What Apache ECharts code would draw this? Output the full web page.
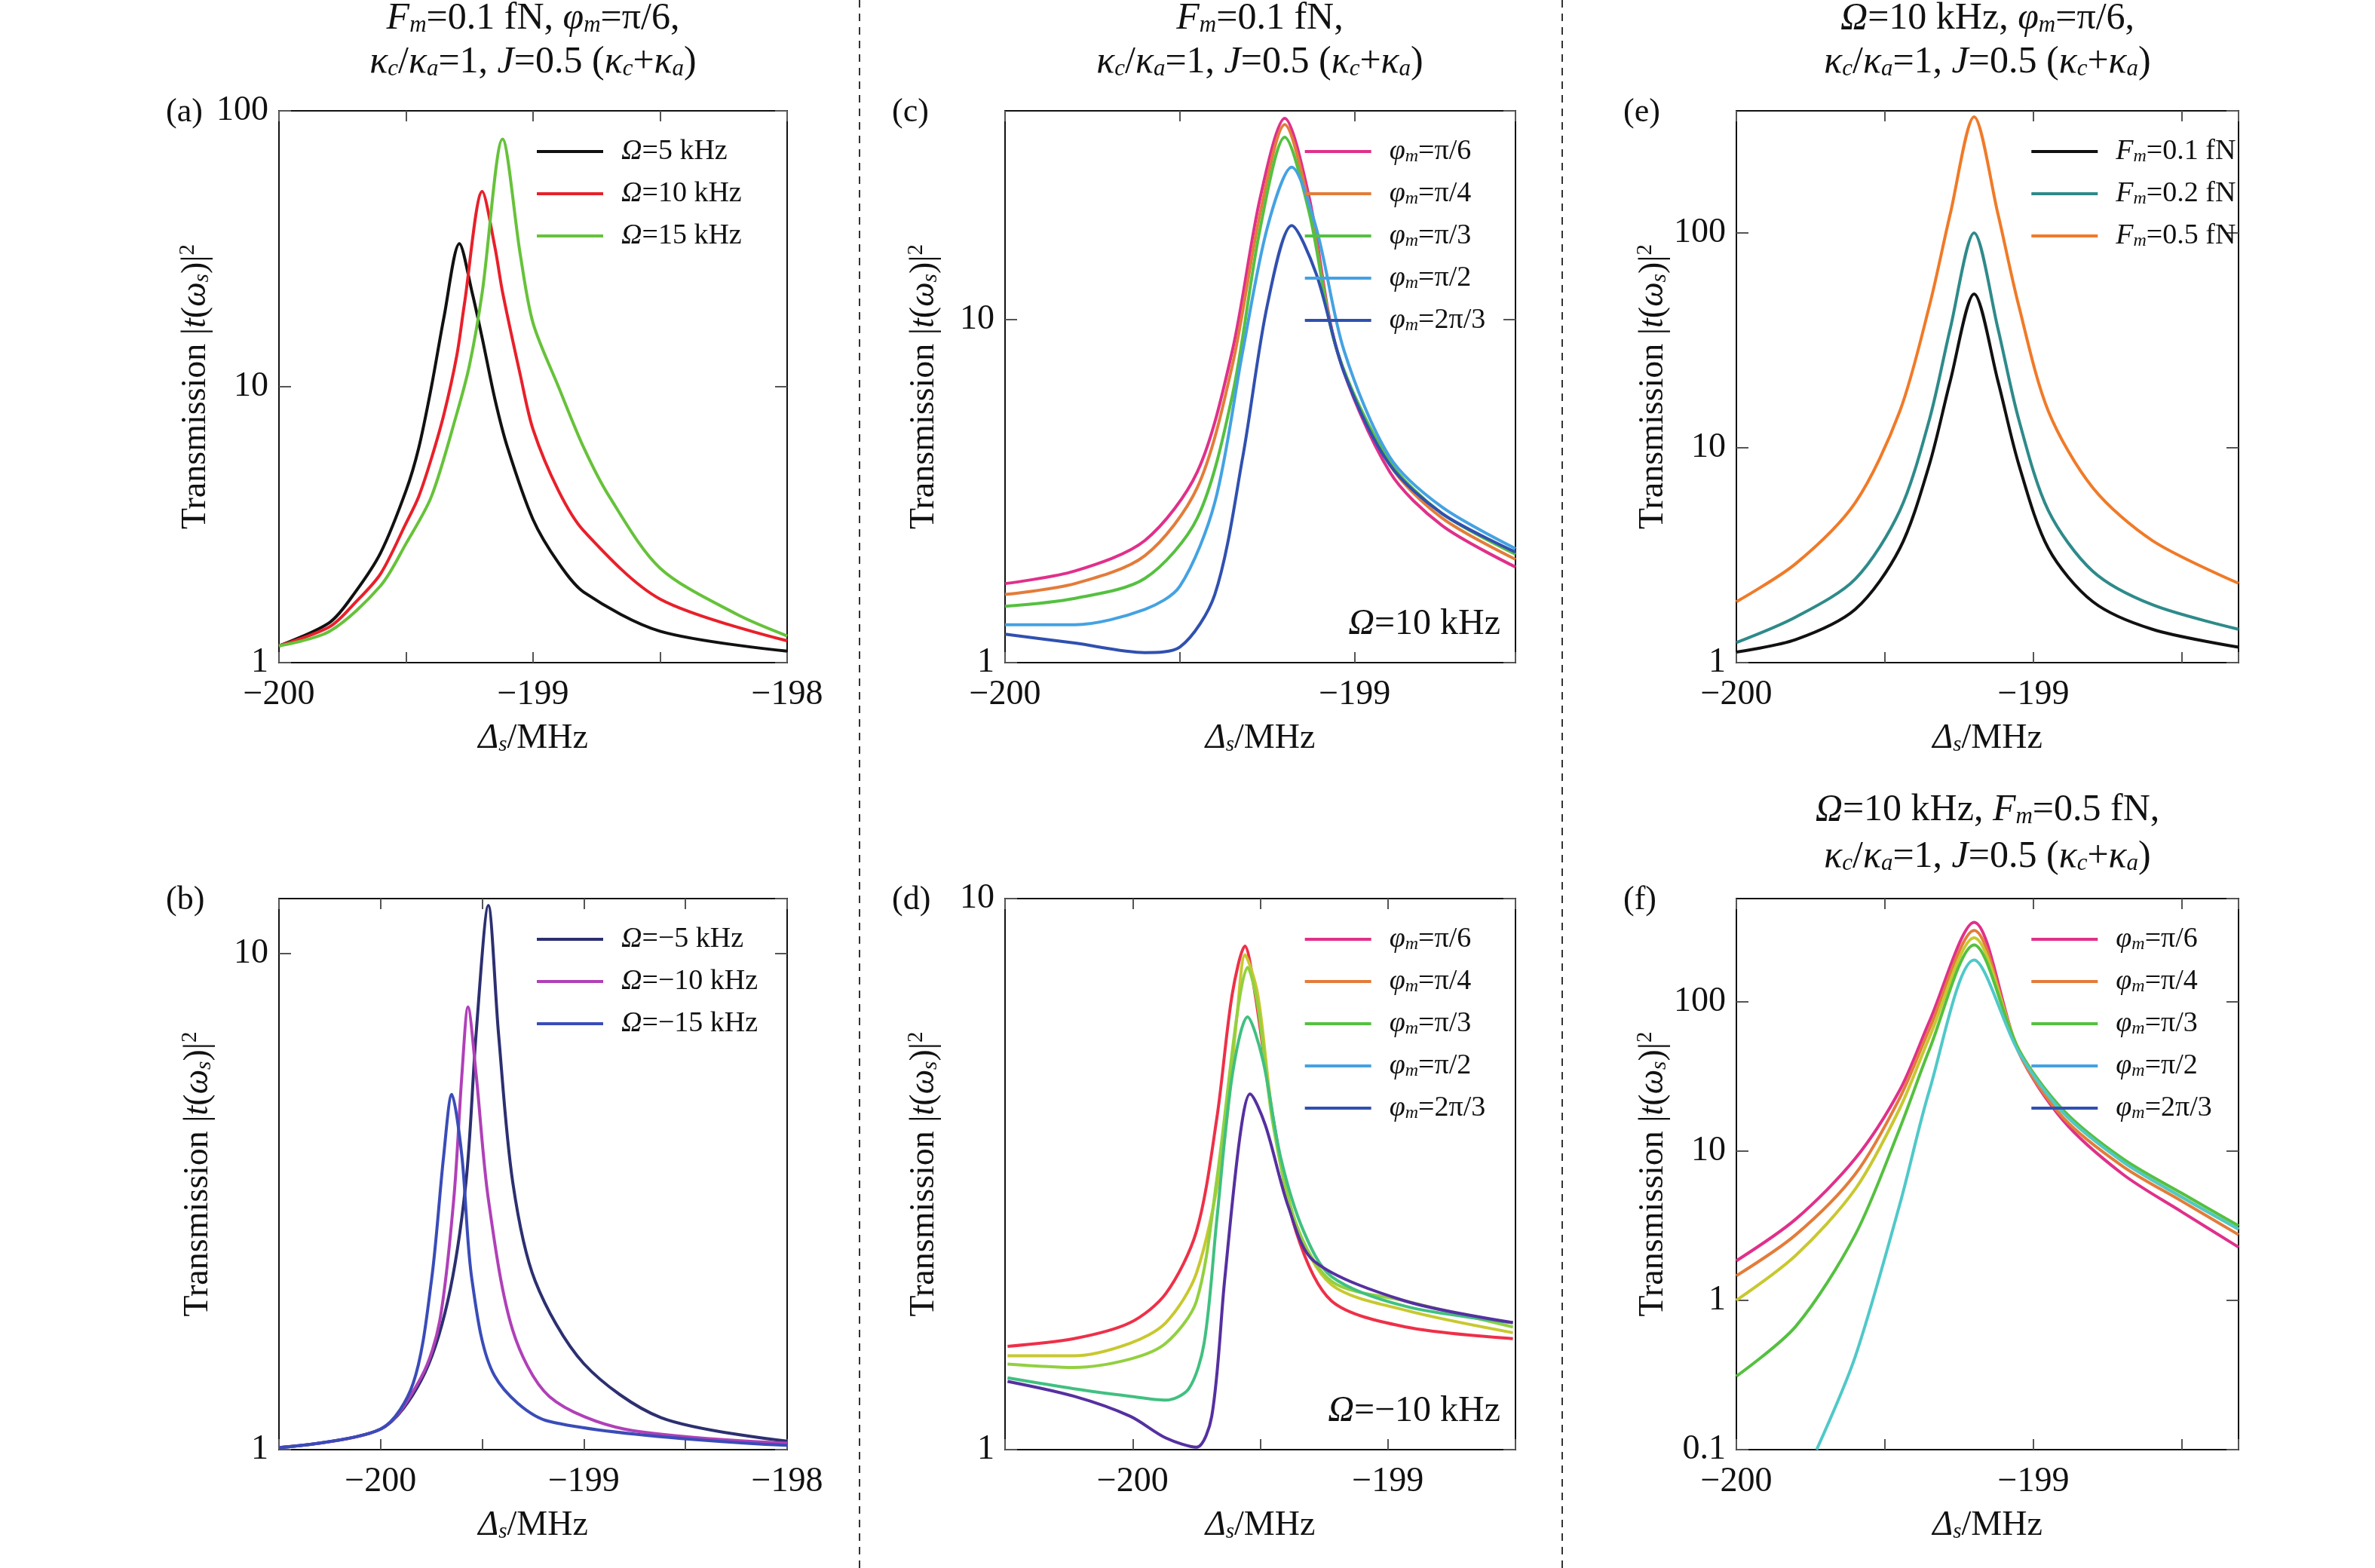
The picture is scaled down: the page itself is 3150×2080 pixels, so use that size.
<!DOCTYPE html>
<html><head><meta charset="utf-8">
<script src="https://cdn.jsdelivr.net/npm/echarts@6/dist/echarts.min.js"></script>
<style>html,body{margin:0;background:#fff}#c{width:3150px;height:2080px}</style>
</head><body><div id="c"></div>
<script>
// ---- data (x = Δs in MHz, y = transmission) ----
const a_O5  = [[-200,1.15],[-199.8,1.4],[-199.7,1.8],[-199.6,2.5],[-199.5,4.2],[-199.45,6],[-199.4,10],[-199.35,18],[-199.29,33],[-199.24,22],[-199.2,15],[-199.15,9],[-199.1,6],[-199.0,3.3],[-198.9,2.3],[-198.8,1.8],[-198.5,1.3],[-198,1.1]];
const a_O10 = [[-200,1.15],[-199.8,1.35],[-199.7,1.65],[-199.6,2.1],[-199.5,3.2],[-199.45,4],[-199.4,5.5],[-199.35,8],[-199.3,13],[-199.27,20],[-199.2,51],[-199.15,32],[-199.12,22],[-199.05,11],[-199.0,7],[-198.9,4.2],[-198.8,3],[-198.5,1.7],[-198,1.2]];
const a_O15 = [[-200,1.15],[-199.8,1.3],[-199.6,1.9],[-199.5,2.7],[-199.4,4],[-199.3,8],[-199.25,12],[-199.2,22],[-199.12,79],[-199.05,30],[-199.0,17],[-198.9,10],[-198.8,6],[-198.7,4],[-198.5,2.2],[-198.2,1.5],[-198,1.25]];

const b_O5  = [[-200.5,1.01],[-200,1.1],[-199.8,1.38],[-199.67,1.99],[-199.58,3.46],[-199.53,6.9],[-199.47,12.5],[-199.42,6.9],[-199.35,3.46],[-199.24,2.19],[-199.0,1.49],[-198.62,1.16],[-198,1.04]];
const b_O10 = [[-200.5,1.01],[-200,1.1],[-199.8,1.4],[-199.71,1.81],[-199.64,3.2],[-199.6,5.7],[-199.57,7.8],[-199.53,5.7],[-199.47,3.2],[-199.35,1.74],[-199.17,1.28],[-198.8,1.1],[-198,1.03]];
const b_O15 = [[-200.5,1.01],[-200,1.1],[-199.84,1.36],[-199.75,2.19],[-199.69,3.9],[-199.65,5.2],[-199.6,3.9],[-199.55,2.19],[-199.44,1.41],[-199.17,1.14],[-198,1.02]];

const c_p6  = [[-200,1.7],[-199.8,1.85],[-199.6,2.27],[-199.45,3.6],[-199.35,8.1],[-199.27,22.7],[-199.2,38.6],[-199.13,22.7],[-199.05,8.1],[-198.9,3.6],[-198.75,2.51],[-198.54,1.9]];
const c_p4  = [[-200,1.58],[-199.8,1.7],[-199.6,2.05],[-199.45,3.24],[-199.35,7.35],[-199.27,20.5],[-199.2,37],[-199.13,21.5],[-199.05,8.1],[-198.9,3.78],[-198.75,2.64],[-198.54,2.0]];
const c_p3  = [[-200,1.46],[-199.8,1.54],[-199.6,1.76],[-199.45,2.64],[-199.35,6.0],[-199.27,18.5],[-199.2,34],[-199.13,20.5],[-199.05,8.1],[-198.9,3.86],[-198.75,2.72],[-198.54,2.07]];
const c_p2  = [[-200,1.29],[-199.8,1.29],[-199.6,1.43],[-199.5,1.67],[-199.4,2.93],[-199.32,8.1],[-199.25,18.5],[-199.18,27.8],[-199.11,18.5],[-199.03,8.1],[-198.9,3.98],[-198.75,2.84],[-198.54,2.15]];
const c_2p3 = [[-200,1.21],[-199.8,1.14],[-199.6,1.07],[-199.5,1.11],[-199.4,1.58],[-199.32,3.98],[-199.25,11],[-199.18,18.8],[-199.11,13.6],[-199.03,7.0],[-198.9,3.78],[-198.75,2.72],[-198.54,2.1]];

const d_p6  = [[-200.49,1.54],[-200.23,1.59],[-200.01,1.7],[-199.87,1.92],[-199.75,2.49],[-199.67,4.0],[-199.61,6.7],[-199.56,8.2],[-199.52,6.7],[-199.45,4.0],[-199.36,2.49],[-199.22,1.86],[-198.93,1.67],[-198.51,1.59]];
const d_p4  = [[-200.49,1.48],[-200.23,1.48],[-200.01,1.56],[-199.87,1.7],[-199.75,2.09],[-199.65,3.39],[-199.59,6.2],[-199.56,7.9],[-199.51,6.7],[-199.45,4.0],[-199.36,2.57],[-199.22,1.99],[-198.93,1.79],[-198.51,1.63]];
const d_p3  = [[-200.49,1.43],[-200.23,1.41],[-200.01,1.46],[-199.87,1.56],[-199.75,1.86],[-199.67,3.1],[-199.59,6.2],[-199.55,7.5],[-199.51,6.4],[-199.45,3.9],[-199.36,2.57],[-199.22,2.02],[-198.93,1.86],[-198.51,1.67]];
const d_p2  = [[-200.49,1.35],[-200.23,1.29],[-200.01,1.25],[-199.87,1.23],[-199.78,1.29],[-199.72,1.56],[-199.67,2.62],[-199.61,4.77],[-199.55,6.1],[-199.49,5.1],[-199.42,3.39],[-199.33,2.49],[-199.22,2.06],[-198.93,1.82],[-198.51,1.7]];
const d_2p3 = [[-200.49,1.33],[-200.23,1.25],[-200.01,1.15],[-199.87,1.05],[-199.75,1.01],[-199.69,1.15],[-199.64,2.02],[-199.58,3.69],[-199.54,4.42],[-199.48,3.88],[-199.39,2.76],[-199.29,2.2],[-198.93,1.86],[-198.51,1.7]];

const e_F1 = [[-200,1.12],[-199.8,1.28],[-199.6,1.77],[-199.45,3.4],[-199.35,8.4],[-199.28,20.5],[-199.2,52],[-199.12,20.5],[-199.05,8.4],[-198.95,3.4],[-198.8,1.92],[-198.6,1.43],[-198.31,1.18]];
const e_F2 = [[-200,1.24],[-199.8,1.63],[-199.6,2.45],[-199.45,5.1],[-199.35,13.6],[-199.28,36],[-199.2,100],[-199.12,36],[-199.05,13.6],[-198.95,5.1],[-198.8,2.66],[-198.6,1.86],[-198.31,1.43]];
const e_F5 = [[-200,1.92],[-199.8,2.89],[-199.6,5.55],[-199.45,14.8],[-199.35,46],[-199.28,123],[-199.2,347],[-199.12,123],[-199.05,46],[-198.95,14.8],[-198.8,6.5],[-198.6,3.7],[-198.31,2.34]];

const f_p6  = [[-200,1.84],[-199.8,3.5],[-199.6,8.9],[-199.45,25.6],[-199.35,74],[-199.2,340],[-199.05,46],[-198.9,16],[-198.7,7.0],[-198.5,3.9],[-198.31,2.27]];
const f_p4  = [[-200,1.46],[-199.8,2.75],[-199.6,7.0],[-199.45,22.7],[-199.35,66],[-199.2,300],[-199.05,46],[-198.9,16.7],[-198.7,7.9],[-198.5,4.6],[-198.31,2.75]];
const f_p3  = [[-200,1.0],[-199.8,2.0],[-199.6,5.55],[-199.45,19.3],[-199.35,58],[-199.2,268],[-199.05,48],[-198.9,18],[-198.7,8.5],[-198.5,4.9],[-198.31,3.0]];
const f_p2  = [[-200,0.31],[-199.8,0.67],[-199.6,2.75],[-199.45,14.2],[-199.35,48],[-199.2,240],[-199.05,48],[-198.9,18.8],[-198.7,8.9],[-198.5,5.2],[-198.31,3.16]];
const f_2p3 = [[-199.73,0.1],[-199.6,0.42],[-199.45,4.4],[-199.35,25.6],[-199.2,190],[-199.05,46],[-198.9,18],[-198.7,8.5],[-198.5,4.9],[-198.31,3.0]];

// ---- layout ----
const FONT = 'Liberation Serif';
const cols = [[370,1044],[1333,2010],[2303,2969]];
const rows = [[147,879],[1192,1923]];
const panels = [
  {id:'a',c:0,r:0,x:[-200,-198],y:[1,100],
   s:[['{i|Ω}=5 kHz','#111111',a_O5],['{i|Ω}=10 kHz','#e8202a',a_O10],['{i|Ω}=15 kHz','#66c23a',a_O15]]},
  {id:'b',c:0,r:1,x:[-200.5,-198],y:[1,12.9],
   s:[['{i|Ω}=−5 kHz','#2c2f70',b_O5],['{i|Ω}=−10 kHz','#b040b8',b_O10],['{i|Ω}=−15 kHz','#3a4cb8',b_O15]]},
  {id:'c',c:1,r:0,x:[-200,-198.54],y:[1,40.6],note:'{i|Ω}{n|=10 kHz}',
   s:[['{i|φ}{s|m}=π/6','#e0308a',c_p6],['{i|φ}{s|m}=π/4','#e37c3a',c_p4],['{i|φ}{s|m}=π/3','#55c040',c_p3],['{i|φ}{s|m}=π/2','#44a2e2',c_p2],['{i|φ}{s|m}=2π/3','#3050b0',c_2p3]]},
  {id:'d',c:1,r:1,x:[-200.5,-198.5],y:[1,10],note:'{i|Ω}{n|=−10 kHz}',
   s:[['{i|φ}{s|m}=π/6','#ee3048',d_p6],['{i|φ}{s|m}=π/4','#c8c830',d_p4],['{i|φ}{s|m}=π/3','#92d040',d_p3],['{i|φ}{s|m}=π/2','#40c080',d_p2],['{i|φ}{s|m}=2π/3','#5530a0',d_2p3]]},
  {id:'e',c:2,r:0,x:[-200,-198.31],y:[1,370],
   s:[['{i|F}{s|m}=0.1 fN','#111111',e_F1],['{i|F}{s|m}=0.2 fN','#2e8a8a',e_F2],['{i|F}{s|m}=0.5 fN','#f07a28',e_F5]]},
  {id:'f',c:2,r:1,x:[-200,-198.31],y:[0.1,490],
   s:[['{i|φ}{s|m}=π/6','#e0308a',f_p6],['{i|φ}{s|m}=π/4','#e37c3a',f_p4],['{i|φ}{s|m}=π/3','#c8c830',f_p3],['{i|φ}{s|m}=π/2','#55c040',f_p2],['{i|φ}{s|m}=2π/3','#50c8c8',f_2p3]]}
];

function mkRich(fs){return {
  i:{fontFamily:FONT,fontStyle:'italic',fontSize:fs,color:'#111'},
  s:{fontFamily:FONT,fontStyle:'italic',fontSize:Math.round(fs*0.62),padding:[Math.round(fs*0.35),0,0,0],color:'#111'},
  p:{fontFamily:FONT,fontSize:Math.round(fs*0.62),padding:[0,0,Math.round(fs*0.45),0],color:'#111'},
  n:{fontFamily:FONT,fontSize:fs,color:'#111'}
};}

const grid=[],xAxis=[],yAxis=[],series=[],legend=[],graphic=[];
panels.forEach((p,k)=>{
  const L=cols[p.c][0],R=cols[p.c][1],T=rows[p.r][0],B=rows[p.r][1];
  grid.push({left:L,top:T,width:R-L,height:B-T,show:true,borderColor:'#111',borderWidth:2});
  const ymin=Math.log10(p.y[0]), ymax=Math.log10(p.y[1]);
  const common={gridIndex:k,type:'value',min:p.x[0],max:p.x[1],interval:0.5,
    axisLine:{onZero:false,lineStyle:{color:'#111',width:2}},splitLine:{show:false},
    axisTick:{inside:true,length:14,lineStyle:{color:'#555',width:2}}};
  xAxis.push(Object.assign({},common,{position:'bottom',
    name:'{i|Δ}{s|s}{n|/MHz}',nameLocation:'middle',nameGap:78,nameTextStyle:{fontFamily:FONT,fontSize:46,color:'#111',rich:mkRich(46)},
    axisLabel:{fontFamily:FONT,fontSize:46,color:'#111',margin:20,showMaxLabel:true,
      formatter:v=>Math.abs(v-Math.round(v))<1e-6 ? ('−'+Math.abs(Math.round(v))) : ''}}));
  xAxis.push(Object.assign({},common,{position:'top',axisLabel:{show:false}}));
  const yc={gridIndex:k,type:'value',min:ymin,max:ymax,interval:1,
    axisLine:{onZero:false,lineStyle:{color:'#111',width:2}},splitLine:{show:false},
    axisTick:{inside:true,length:16,lineStyle:{color:'#555',width:2}}};
  yAxis.push(Object.assign({},yc,{position:'left',
    name:'{n|Transmission |}{i|t}{n|(}{i|ω}{s|s}{n|)|}{p|2}',nameLocation:'middle',nameGap:82,nameRotate:90,
    nameTextStyle:{fontFamily:FONT,fontSize:46,color:'#111',rich:mkRich(46)},
    axisLabel:{fontFamily:FONT,fontSize:46,color:'#111',margin:14,showMaxLabel:Math.abs(ymax-Math.round(ymax))<1e-6,
      formatter:v=>{if(Math.abs(v-Math.round(v))>1e-6)return '';const n=Math.pow(10,Math.round(v));return n<1?n.toFixed(1):String(Math.round(n));}}}));
  yAxis.push(Object.assign({},yc,{position:'right',axisLabel:{show:false}}));
  const names=[];
  p.s.forEach(s=>{
    names.push(s[0]);
    series.push({type:'line',name:s[0],xAxisIndex:2*k,yAxisIndex:2*k,smooth:0.3,showSymbol:false,
      lineStyle:{color:s[1],width:4},itemStyle:{color:s[1]},clip:true,
      data:s[2].map(d=>[d[0],Math.log10(d[1])])});
  });
  const lgLeft = p.c===0 ? L+(R-L)*0.5 : L+(R-L)*0.58;
  legend.push({data:names,left:lgLeft,top:T+30,orient:'vertical',itemWidth:88,itemHeight:4,itemGap:18,
    icon:'rect',textStyle:{fontFamily:FONT,fontSize:38,color:'#111',rich:mkRich(38)},
    formatter:n=>'{n|  }{n|'+n.replace(/\{(\w)\|([^}]*)\}/g,'}{$1|$2}{n|')+'}'});
  graphic.push({type:'text',left:L-150,top:T-20,style:{text:'('+p.id+')',font:'44px "Liberation Serif"',fill:'#111'}});
  if(p.note) graphic.push({type:'text',right:3150-R+20,top:B-75,style:{text:p.note,rich:mkRich(48),font:'48px "Liberation Serif"',fill:'#111'}});
});

function title(cx,y,t){graphic.push({type:'text',x:cx,y:y,style:{text:t,rich:mkRich(50),font:'50px "Liberation Serif"',fill:'#111',align:'center'}});}
const line2='{i|κ}{s|c}{n|/}{i|κ}{s|a}{n|=1, }{i|J}{n|=0.5 (}{i|κ}{s|c}{n|+}{i|κ}{s|a}{n|)}';
title(707,0,'{i|F}{s|m}{n|=0.1 fN, }{i|φ}{s|m}{n|=π/6,}');
title(707,58,line2);
title(1671,0,'{i|F}{s|m}{n|=0.1 fN,}');
title(1671,58,line2);
title(2636,0,'{i|Ω}{n|=10 kHz, }{i|φ}{s|m}{n|=π/6,}');
title(2636,58,line2);
title(2636,1050,'{i|Ω}{n|=10 kHz, }{i|F}{s|m}{n|=0.5 fN,}');
title(2636,1112,line2);
[1140,2072].forEach(x=>graphic.push({type:'line',shape:{x1:x,y1:0,x2:x,y2:2080},style:{stroke:'#333',lineWidth:2,lineDash:[10,8]}}));

const chart=echarts.init(document.getElementById('c'));
chart.setOption({animation:false,backgroundColor:'#fff',grid,xAxis,yAxis,series,legend,graphic});
</script></body></html>
